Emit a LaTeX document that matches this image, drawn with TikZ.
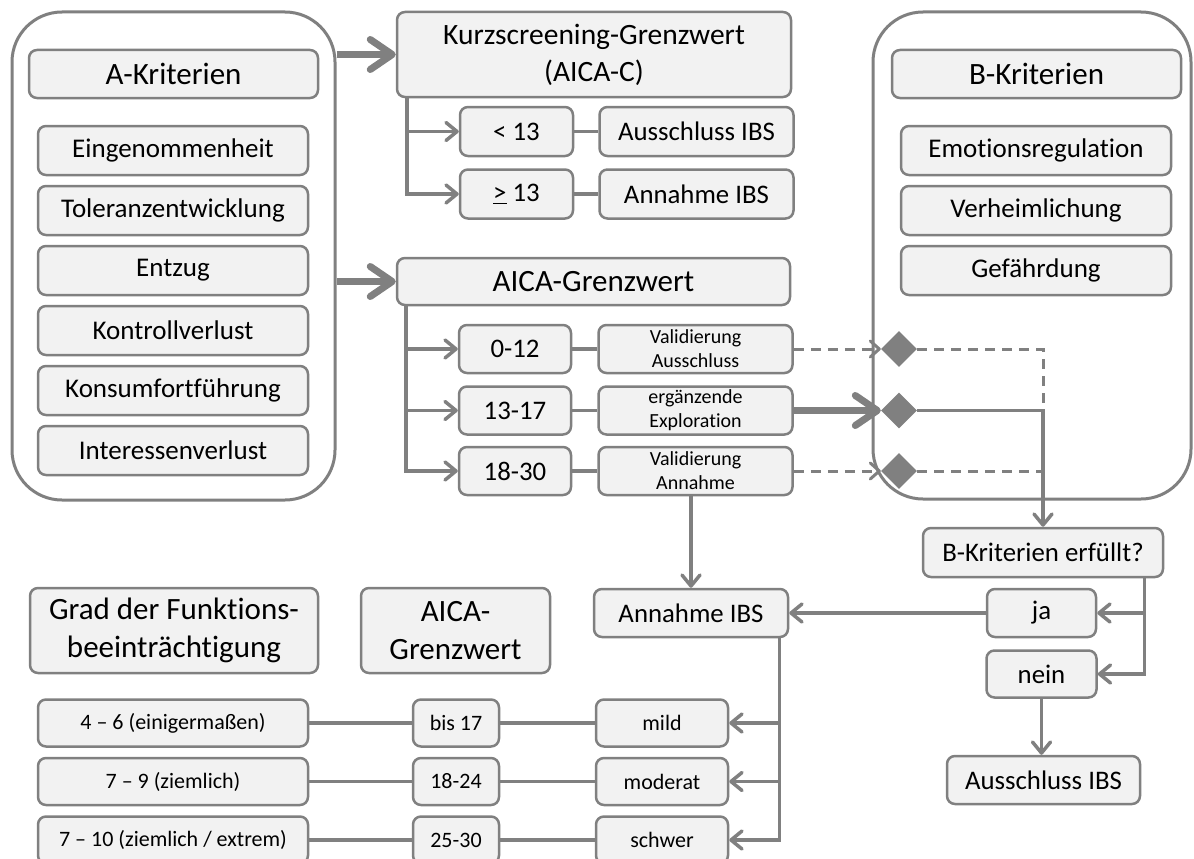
\documentclass[tikz,border=0pt]{standalone}
\usepackage{fontspec}
\setmainfont{Carlito}[Ligatures=NoCommon]
\usetikzlibrary{positioning,arrows.meta,shapes.geometric}
\definecolor{boxfill}{RGB}{242,242,242}
\definecolor{edgegray}{RGB}{128,128,128}

\begin{document}
\begin{tikzpicture}[x=1pt,y=-1pt,
  box/.style={draw=edgegray,fill=boxfill,line width=2.5pt,rounded corners=8pt,rectangle,inner sep=0pt,align=center,font=\fontsize{26.8}{31}\selectfont},
  hdr/.style={box,font=\fontsize{31}{38}\selectfont},
  item/.style={box,minimum width=270pt,minimum height=49pt,font=\fontsize{27}{31}\selectfont},
  small/.style={box,font=\fontsize{20}{24}\selectfont},
  lowrow/.style={box,minimum height=47pt,font=\fontsize{22}{26}\selectfont},
  panel/.style={draw=edgegray,line width=3pt,rounded corners=50pt,rectangle,inner sep=0pt},
  gem/.style={diamond,fill=edgegray,minimum size=36pt,inner sep=0pt},
  link/.style={draw=edgegray,line width=3.5pt},
  arr/.style={link,-{Straight Barb[length=11pt,width=18pt,round]}},
  bigarr/.style={draw=edgegray,line width=7pt,-{Straight Barb[length=22pt,width=30pt,round]}},
  dashline/.style={draw=edgegray,line width=3pt,dash pattern=on 10pt off 7pt},
  dasharr/.style={dashline,-{Straight Barb[length=9pt,width=16pt,round]}}]
  \useasboundingbox (0,0) rectangle (1194,859);

  % A-Kriterien
  \node[panel,minimum width=323pt,minimum height=488pt] (apanel) at (173.5,256) {};
  \node[hdr,minimum width=289pt,minimum height=48pt] (akrit) at (173.5,74) {A-Kriterien};
  \node[item] (eing) at (173,150.5) {Eingenommenheit};
  \node[item,below=8.5pt of eing] (tol) {Toleranzentwicklung};
  \node[item,below=8.5pt of tol] (entz) {Entzug};
  \node[item,below=8.5pt of entz] (kontr) {Kontrollverlust};
  \node[item,below=8.5pt of kontr] (kons) {Konsumfortführung};
  \node[item,below=8.5pt of kons] (inter) {Interessenverlust};

  % B-Kriterien
  \node[panel,minimum width=318pt,minimum height=487pt] (bpanel) at (1032,255.5) {};
  \node[hdr,minimum width=289pt,minimum height=48pt] (bkrit) at (1036.5,74) {B-Kriterien};
  \node[item] (emo) at (1036,150.5) {Emotionsregulation};
  \node[item,below=8.5pt of emo] (verh) {Verheimlichung};
  \node[item,below=8.5pt of verh] (gef) {Gefährdung};

  % Kurzscreening
  \node[hdr,minimum width=394pt,minimum height=85pt,font=\fontsize{29.5}{37}\selectfont] (kurz) at (594,54.5) {Kurzscreening-Grenzwert\\(AICA-C)};
  \node[box,minimum width=113pt,minimum height=49pt] (lt13) at (516.5,131.5) {< 13};
  \node[box,minimum width=194pt,minimum height=49pt,right=24pt of lt13] (aus1) {Ausschluss IBS};
  \node[box,minimum width=113pt,minimum height=49pt,below=11pt of lt13] (ge13) {\underline{>} 13};
  \node[box,minimum width=194pt,minimum height=49pt,right=24pt of ge13] (ann1) {Annahme IBS};

  % AICA-Grenzwert
  \node[hdr,minimum width=393pt,minimum height=47pt] (aica) at (593.5,281.5) {AICA-Grenzwert};
  \node[box,minimum width=112pt,minimum height=48pt] (r1) at (515,349) {0-12};
  \node[small,minimum width=194pt,minimum height=48pt,right=25pt of r1] (v1) {Validierung\\Ausschluss};
  \node[box,minimum width=112pt,minimum height=48pt,below=11pt of r1] (r2) {13-17};
  \node[small,minimum width=194pt,minimum height=48pt,right=25pt of r2] (v2) {ergänzende\\Exploration};
  \node[box,minimum width=112pt,minimum height=48pt,below=10pt of r2] (r3) {18-30};
  \node[small,minimum width=194pt,minimum height=48pt,right=25pt of r3] (v3) {Validierung\\Annahme};

  % Rauten
  \coordinate (dx) at (899,0);
  \node[gem] (d1) at (dx |- v1) {};
  \node[gem] (d2) at (dx |- v2) {};
  \node[gem] (d3) at (dx |- v3) {};

  % Entscheidung
  \node[box,minimum width=240pt,minimum height=49pt] (bcheck) at (1043,552.5) {B-Kriterien erfüllt?};
  \node[box,minimum width=109pt,minimum height=48pt] (ja) at (1041.5,613) {ja};
  \node[box,minimum width=110pt,minimum height=47pt,below=11pt of ja] (nein) {nein};
  \node[box,minimum width=193pt,minimum height=48pt] (ausB) at (1043.5,780) {Ausschluss IBS};
  \node[box,minimum width=194pt,minimum height=48pt] (annM) at (691,613) {Annahme IBS};

  % Schweregrad
  \node[hdr,minimum width=288pt,minimum height=85pt] (grad) at (174,630.5) {Grad der Funktions-\\beeinträchtigung};
  \node[hdr,minimum width=189pt,minimum height=85pt] (aica2) at (455.5,630.5) {AICA-\\Grenzwert};
  \node[lowrow,minimum width=270pt] (g1) at (173,723) {4 – 6 (einigermaßen)};
  \node[lowrow,minimum width=270pt,below=9pt of g1] (g2) {7 – 9 (ziemlich)};
  \node[lowrow,minimum width=270pt,below=9pt of g2] (g3) {7 – 10 (ziemlich / extrem)};
  \node[lowrow,minimum width=86pt] (c1) at (456,723) {bis 17};
  \node[lowrow,minimum width=86pt,below=9pt of c1] (c2) {18-24};
  \node[lowrow,minimum width=86pt,below=9pt of c2] (c3) {25-30};
  \node[lowrow,minimum width=132pt] (mild) at (662,723) {mild};
  \node[lowrow,minimum width=132pt,below=9pt of mild] (mod) {moderat};
  \node[lowrow,minimum width=132pt,below=9pt of mod] (schw) {schwer};

  \draw[bigarr] (apanel.east |- kurz.west) -- (kurz.west);
  \draw[bigarr] (apanel.east |- aica.west) -- (aica.west);

  \draw[arr] ([xshift=11pt]kurz.south west) |- (lt13.west);
  \draw[arr] ([xshift=11pt]kurz.south west) |- (ge13.west);
  \draw[link] (lt13) -- (aus1);
  \draw[link] (ge13) -- (ann1);

  \draw[arr] ([xshift=10pt]aica.south west) |- (r1.west);
  \draw[arr] ([xshift=10pt]aica.south west) |- (r2.west);
  \draw[arr] ([xshift=10pt]aica.south west) |- (r3.west);
  \draw[link] (r1) -- (v1);
  \draw[link] (r2) -- (v2);
  \draw[link] (r3) -- (v3);

  \draw[dasharr] (v1.east) -- (d1.west);
  \draw[bigarr] (v2.east) -- (d2.west);
  \draw[dasharr] (v3.east) -- (d3.west);
  \draw[dashline] (d1.east) -| (bcheck.north |- d2.east);
  \draw[dashline] (d3.east) -- (bcheck.north |- d3.east);
  \draw[arr] (d2.east) -| (bcheck.north);

  \draw[arr] ([xshift=-20pt]bcheck.south east) |- (ja.east);
  \draw[arr] ([xshift=-20pt]bcheck.south east) |- (nein.east);
  \draw[arr] (nein.south) -- (nein.south |- ausB.north);
  \draw[arr] (ja.west) -- (annM.east);
  \draw[arr] (v3.south -| annM.north) -- (annM.north);

  \draw[arr] ([xshift=-10pt]annM.south east) |- (mild.east);
  \draw[arr] ([xshift=-10pt]annM.south east) |- (mod.east);
  \draw[arr] ([xshift=-10pt]annM.south east) |- (schw.east);

  \draw[link] (g1) -- (c1);
  \draw[link] (c1) -- (mild);
  \draw[link] (g2) -- (c2);
  \draw[link] (c2) -- (mod);
  \draw[link] (g3) -- (c3);
  \draw[link] (c3) -- (schw);
\end{tikzpicture}
\end{document}
